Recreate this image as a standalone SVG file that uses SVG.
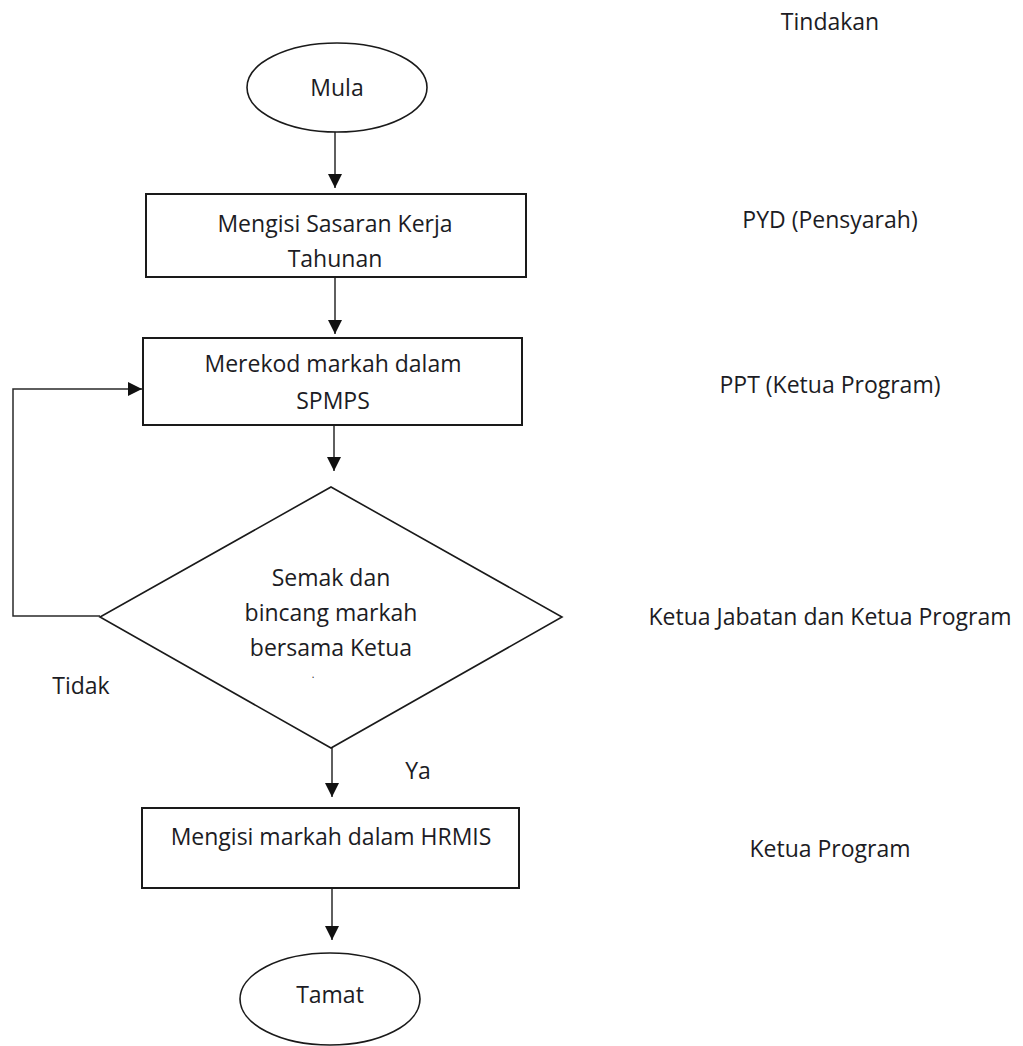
<svg xmlns="http://www.w3.org/2000/svg" width="1023" height="1046" viewBox="0 0 1023 1046">
  <style>
    .lbl { font-family: "Open Sans", "Liberation Sans", sans-serif; font-size: 23px; fill: #1c1c24; text-anchor: middle; }
    .shape { fill: #ffffff; stroke: #1a1a1a; stroke-width: 1.6; }
    .box { fill: #ffffff; stroke: #1a1a1a; stroke-width: 2; }
    .wire { fill: none; stroke: #2a2a2a; stroke-width: 1.5; }
  </style>
  <defs>
    <marker id="arrow" markerUnits="userSpaceOnUse" markerWidth="14" markerHeight="16" refX="14" refY="7" orient="auto">
      <path d="M0,0 L14,7 L0,14 Z" fill="#111"/>
    </marker>
  </defs>
  <rect width="1023" height="1046" fill="#ffffff"/>

  <!-- connectors -->
  <g id="connectors">
    <line class="wire" x1="335" y1="132" x2="335" y2="188" marker-end="url(#arrow)"/>
    <line class="wire" x1="335" y1="277" x2="335" y2="334" marker-end="url(#arrow)"/>
    <line class="wire" x1="334" y1="425" x2="334" y2="471" marker-end="url(#arrow)"/>
    <path class="wire" d="M100,616 H13 V389 H142" marker-end="url(#arrow)"/>
    <line class="wire" x1="332" y1="748" x2="332" y2="797" marker-end="url(#arrow)"/>
    <line class="wire" x1="332" y1="888" x2="332" y2="940" marker-end="url(#arrow)"/>
  </g>

  <!-- start -->
  <g id="mula">
    <ellipse class="shape" cx="337" cy="87.5" rx="90" ry="44.5"/>
    <text class="lbl" x="337" y="96">Mula</text>
  </g>

  <!-- step 1 -->
  <g id="sasaran">
    <rect class="box" x="146" y="194" width="380" height="83"/>
    <text class="lbl" x="335" y="232">Mengisi Sasaran Kerja</text>
    <text class="lbl" x="335" y="267">Tahunan</text>
  </g>

  <!-- step 2 -->
  <g id="merekod">
    <rect class="box" x="143" y="338" width="379" height="87"/>
    <text class="lbl" x="333" y="372">Merekod markah dalam</text>
    <text class="lbl" x="333" y="409">SPMPS</text>
  </g>

  <!-- decision -->
  <g id="semak">
    <polygon class="shape" points="331,487 562,617 331,748 100,617"/>
    <text class="lbl" x="331" y="586">Semak dan</text>
    <text class="lbl" x="331" y="621">bincang markah</text>
    <text class="lbl" x="331" y="656">bersama Ketua</text>
    <text class="lbl" x="313" y="678" style="font-size:10px">.</text>
  </g>

  <!-- branch labels -->
  <text id="tidak" class="lbl" x="81" y="694">Tidak</text>
  <text id="ya" class="lbl" x="418" y="779">Ya</text>

  <!-- step 3 -->
  <g id="hrmis">
    <rect class="box" x="142" y="808" width="377" height="80"/>
    <text class="lbl" x="331" y="845">Mengisi markah dalam HRMIS</text>
  </g>

  <!-- end -->
  <g id="tamat">
    <ellipse class="shape" cx="330" cy="999" rx="90" ry="46"/>
    <text class="lbl" x="330" y="1003">Tamat</text>
  </g>

  <!-- action column -->
  <g id="tindakan">
    <text class="lbl" x="830" y="30">Tindakan</text>
    <text class="lbl" x="830" y="228">PYD (Pensyarah)</text>
    <text class="lbl" x="830" y="393">PPT (Ketua Program)</text>
    <text class="lbl" x="830" y="625">Ketua Jabatan dan Ketua Program</text>
    <text class="lbl" x="830" y="857">Ketua Program</text>
  </g>
</svg>
